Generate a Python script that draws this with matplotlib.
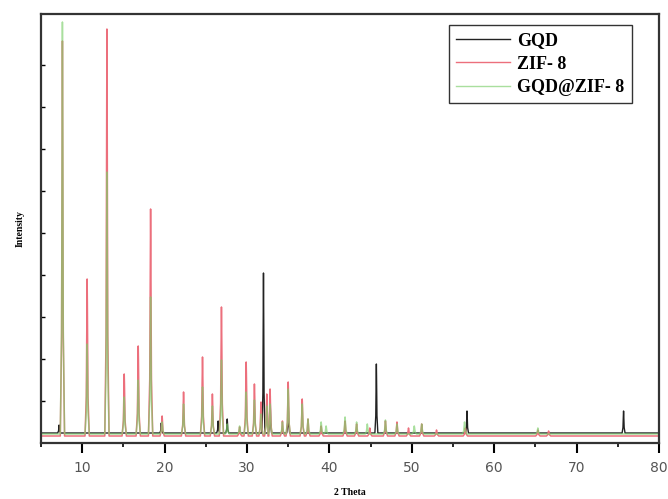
import matplotlib
matplotlib.use("Agg")
import matplotlib.pyplot as plt
import numpy as np

# peak lists: 2 theta position, height (arbitrary units)
gqd_pos = [7.2, 19.6, 26.5, 27.6, 32.0, 32.8, 35.0, 45.7, 56.7, 75.7]
gqd_int = [8, 10, 12, 14, 160, 40, 30, 69, 22, 22]
gqd_base = 4

zif_pos = [7.6, 10.6, 13.0, 15.1, 16.8, 18.3, 19.7, 22.3, 24.6, 25.8, 26.9, 29.1,
           29.9, 30.9, 31.7, 32.4, 32.8, 34.3, 35.0, 36.7, 37.4, 39.0, 41.9, 43.3,
           44.9, 46.8, 48.2, 49.6, 51.2, 53.0, 56.5, 65.3, 66.6]
zif_int = [395, 157, 407, 62, 90, 227, 20, 44, 79, 42, 129, 9,
           74, 52, 34, 42, 47, 15, 54, 37, 17, 10, 15, 12,
           8, 15, 14, 8, 12, 6, 8, 6, 5]
zif_base = 1

comp_pos = [7.6, 10.6, 13.0, 15.1, 16.8, 18.3, 19.7, 22.3, 24.6, 25.8, 26.9, 27.6,
            29.1, 29.9, 30.9, 31.7, 32.4, 32.8, 34.3, 35.0, 36.7, 37.4, 39.0, 39.6,
            41.9, 43.3, 44.6, 46.8, 48.2, 50.3, 51.2, 56.4, 65.3]
comp_int = [412, 90, 262, 37, 54, 137, 12, 30, 47, 28, 74, 10,
            8, 42, 34, 20, 28, 30, 12, 45, 30, 15, 12, 8,
            17, 12, 10, 14, 10, 8, 10, 12, 6]
comp_base = 3

labels = ["GQD", "ZIF- 8", "GQD@ZIF- 8"]


def pattern(pos, inten, base, hw=0.26):
    # baseline with a narrow spike at every peak
    x = [5.0]
    y = [base]
    for p, h in sorted(zip(pos, inten)):
        x += [p - hw, p - hw * 0.4, p - hw * 0.1, p, p + hw * 0.1, p + hw * 0.4, p + hw]
        y += [base, base + h * 0.25, base + h * 0.85, base + h, base + h * 0.85,
              base + h * 0.25, base]
    x.append(80.0)
    y.append(base)
    return x, y


fig = plt.figure(figsize=(6.68, 4.99), dpi=100)
ax = fig.add_axes([41 / 668, 56 / 499, 618 / 668, 429 / 499])

x, y = pattern(gqd_pos, gqd_int, gqd_base, hw=0.18)
ax.plot(x, y, color="#222222", lw=1.0, label=labels[0])
x, y = pattern(zif_pos, zif_int, zif_base)
ax.plot(x, y, color="#ec6f7c", lw=1.1, label=labels[1])
x, y = pattern(comp_pos, comp_int, comp_base)
ax.plot(x, y, color="#7ccf6a", lw=1.1, alpha=0.65, label=labels[2])

ax.set_xlim(5, 80)
ax.set_ylim(-6, 423)

ax.set_xticks(range(10, 81, 10))
ax.set_xticks(range(5, 80, 10), minor=True)
ax.tick_params(axis="x", which="major", direction="out", length=7, width=1.5,
               labelsize=10, labelcolor="#555555", pad=6)
ax.tick_params(axis="x", which="minor", direction="out", length=3, width=1.2)
ax.set_yticks(np.arange(36, 400, 42))
ax.tick_params(axis="y", which="major", direction="in", length=3, width=1,
               labelleft=False)

for s in ax.spines.values():
    s.set_linewidth(1.6)
    s.set_color("#333333")

ax.set_xlabel("2 Theta", fontsize=7, fontweight="bold", family="Liberation Serif",
              labelpad=9)
ax.set_ylabel("Intensity", fontsize=7, fontweight="bold", family="Liberation Serif",
              labelpad=12)

leg = ax.legend(loc="upper right", bbox_to_anchor=(0.956, 0.974), fancybox=False,
                edgecolor="#333333", framealpha=1,
                prop={"family": "Liberation Serif", "weight": "bold", "size": 13},
                handlelength=3.0, handletextpad=0.4, labelspacing=0.35,
                borderpad=0.4, borderaxespad=0)
leg.get_frame().set_linewidth(1.0)
for h in leg.get_lines():
    h.set_linewidth(1.0)

plt.savefig("out.png", dpi=100)
